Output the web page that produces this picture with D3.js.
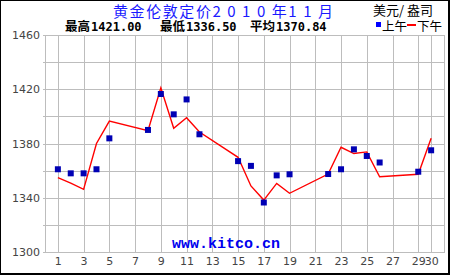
<!DOCTYPE html>
<html>
<head>
<meta charset="utf-8">
<script src="https://cdn.jsdelivr.net/npm/d3@7"></script>
<style>
  body { margin: 0; background: #fff; }
  svg { display: block; }
</style>
</head>
<body>
<svg id="chart" width="450" height="275"></svg>
<script>
// AM fixing (blue squares), day of month and price
const amDays = [1,2,3,4,5,8,9,10,11,12,15,16,17,18,19,22,23,24,25,26,29,30]
const amPrices = [1361,1358,1358,1361,1383.8,1390,1416.5,1401.5,1412.5,1386.8,1367,1363.5,1336.5,1356.5,1357.3,1357.5,1361,1375.7,1370.8,1366,1359.2,1375]

// PM fixing (red line)
const pmDays = [1,2,3,4,5,8,9,10,11,12,15,16,17,18,19,22,23,24,25,26,29,30]
const pmPrices = [1354.8,1350.8,1346.2,1380,1396.5,1389.4,1421,1391.2,1399,1388.5,1369.8,1348.7,1338.3,1350.6,1343.3,1357.5,1377.2,1372.6,1373.8,1355.5,1357.3,1383.8]

const xTicks = [1,3,5,7,9,11,13,15,17,19,21,23,25,27,29,30]
const yTicks = [1300,1340,1380,1420,1460]
const yGrid = d3.range(1300, 1461, 20)

const svg = d3.select("#chart")

// plot region
const plotL = 45, plotR = 444, plotT = 35, plotB = 252

const x = d3.scaleLinear().domain([0, 31]).range([plotL, plotR])
const y = d3.scaleLinear().domain([1300, 1460]).range([plotB, plotT])

// outer frame
svg.append("rect")
  .attr("x", 0.5).attr("y", 0.5)
  .attr("width", 448).attr("height", 273)
  .attr("fill", "#fff")
  .attr("stroke", "#000")
  .attr("stroke-width", 1)
svg.append("path")
  .attr("d", "M449.5,0V275M0,274.5H450")
  .attr("stroke", "#000")
  .attr("stroke-width", 1)

// grid
const grid = svg.append("g").attr("shape-rendering", "crispEdges")
grid.selectAll(".hgrid")
  .data(yGrid)
  .join("line")
  .attr("class", "hgrid")
  .attr("x1", plotL - 2).attr("x2", plotR)
  .attr("y1", d => Math.round(y(d)) + 0.5)
  .attr("y2", d => Math.round(y(d)) + 0.5)
  .attr("stroke", "#bdbdbd")
grid.selectAll(".vgrid")
  .data(xTicks)
  .join("line")
  .attr("class", "vgrid")
  .attr("x1", d => Math.round(x(d)) + 0.5)
  .attr("x2", d => Math.round(x(d)) + 0.5)
  .attr("y1", plotT).attr("y2", plotB)
  .attr("stroke", "#bdbdbd")
grid.append("rect")
  .attr("x", plotL + 0.5).attr("y", plotT + 0.5)
  .attr("width", plotR - plotL).attr("height", plotB - plotT)
  .attr("fill", "none")
  .attr("stroke", "#bdbdbd")

// axes labels only, lines are the grid
const yAxis = d3.axisLeft(y).tickValues(yTicks).tickSize(0).tickPadding(5).tickFormat(d3.format("d"))
svg.append("g")
  .attr("transform", `translate(${plotL},0)`)
  .call(yAxis)
  .call(g => g.select(".domain").remove())
  .call(g => g.selectAll("text")
    .attr("font-family", "DejaVu Sans")
    .attr("font-size", 11)
    .attr("fill", "#444"))

const xAxis = d3.axisBottom(x).tickValues(xTicks).tickSize(0).tickPadding(5)
svg.append("g")
  .attr("transform", `translate(0,${plotB})`)
  .call(xAxis)
  .call(g => g.select(".domain").remove())
  .call(g => g.selectAll("text")
    .attr("font-family", "DejaVu Sans")
    .attr("font-size", 11)
    .attr("fill", "#444"))

// watermark
svg.append("text")
  .attr("x", 226).attr("y", 248)
  .attr("text-anchor", "middle")
  .attr("font-family", "Liberation Mono, DejaVu Sans Mono")
  .attr("font-weight", "bold")
  .attr("font-size", 15)
  .attr("fill", "#0000ee")
  .text("www.kitco.cn")

// PM line
const line = d3.line()
  .x((d, i) => x(pmDays[i]))
  .y(d => y(d))
svg.append("path")
  .datum(pmPrices)
  .attr("d", line)
  .attr("fill", "none")
  .attr("stroke", "#ff0000")
  .attr("stroke-width", 1.4)

// AM squares
svg.selectAll(".am")
  .data(amPrices)
  .join("rect")
  .attr("class", "am")
  .attr("x", (d, i) => x(amDays[i]) - 3)
  .attr("y", d => y(d) - 3)
  .attr("width", 6).attr("height", 6)
  .attr("fill", "#0000b4")

// title, digits spread out like the original
svg.append("text")
  .attr("x", 113).attr("y", 17)
  .attr("textLength", 220)
  .attr("lengthAdjust", "spacing")
  .attr("font-family", "Noto Sans CJK SC")
  .attr("font-size", 15)
  .attr("fill", "#1a1aff")
  .text("黄金伦敦定价2 0 1 0 年1 1 月")

svg.append("text")
  .attr("x", 433).attr("y", 15)
  .attr("text-anchor", "end")
  .attr("font-family", "Noto Sans CJK SC")
  .attr("font-size", 13)
  .attr("fill", "#000")
  .text("美元/ 盎司")

// stats row
const stats = [["最高", "1421.00", 65], ["最低", "1336.50", 160], ["平均", "1370.84", 250]]
stats.forEach(([label, val, px]) => {
  const t = svg.append("text")
    .attr("x", px).attr("y", 31)
    .attr("font-size", 12.5)
    .attr("fill", "#000")
  t.append("tspan").attr("font-family", "Noto Sans CJK SC").attr("font-weight", "bold").text(label)
  t.append("tspan").attr("font-family", "DejaVu Sans Mono").attr("font-weight", "bold").attr("font-size", 12).attr("dx", 1).text(val)
})

// legend
svg.append("rect").attr("x", 376).attr("y", 22).attr("width", 5).attr("height", 5).attr("fill", "#0000ff")
svg.append("text").attr("x", 382).attr("y", 31)
  .attr("font-family", "Noto Sans CJK SC").attr("font-size", 12.5).text("上午")
svg.append("rect").attr("x", 407).attr("y", 24).attr("width", 9).attr("height", 2).attr("fill", "#ff0000")
svg.append("text").attr("x", 417).attr("y", 31)
  .attr("font-family", "Noto Sans CJK SC").attr("font-size", 12.5).text("下午")
</script>
</body>
</html>
